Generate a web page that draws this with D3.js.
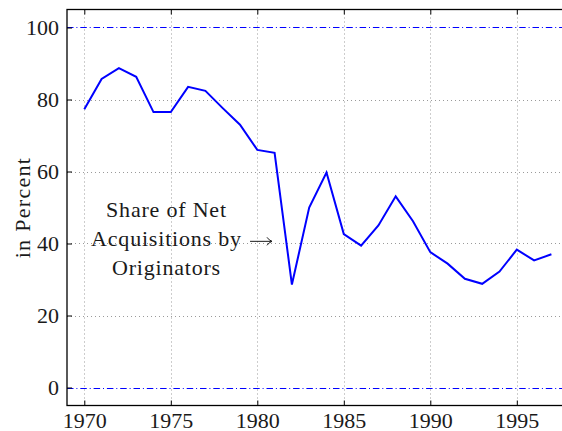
<!DOCTYPE html>
<html>
<head>
  <title>Share of Net Acquisitions by Originators</title>
  <script src="https://cdn.jsdelivr.net/npm/d3@7"></script>
  <style>
    body { margin: 0; background: #fff; }
  </style>
</head>
<body>
  <div id="chart"></div>
  <script>
    // data
    const years = [1970, 1971, 1972, 1973, 1974, 1975, 1976, 1977, 1978, 1979,
                   1980, 1981, 1982, 1983, 1984, 1985, 1986, 1987, 1988, 1989,
                   1990, 1991, 1992, 1993, 1994, 1995, 1996, 1997];
    const share = [77.3, 85.7, 88.7, 86.3, 76.5, 76.5, 83.5, 82.4, 77.6, 73.0,
                   66.0, 65.2, 28.6, 50.0, 59.7, 42.6, 39.4, 45.0, 53.1, 46.2,
                   37.6, 34.4, 30.2, 28.8, 32.2, 38.3, 35.3, 37.0];
    const xTicks = [1970, 1975, 1980, 1985, 1990, 1995];
    const yTicks = [0, 20, 40, 60, 80, 100];
    const refLevels = [0, 100];
    const noteLines = ["Share of Net", "Acquisitions by", "Originators"];
    const noteAt = {year: 1974.75, value: 39.3};
    const arrowFrom = {year: 1979.58, value: 40.6};
    const arrowTo = {year: 1980.85, value: 40.6};

    const FONT = '"Liberation Serif", "DejaVu Serif", "Noto Serif", serif';
    const INK = "#1a1a1a";

    const W = 562, H = 431;
    const margin = {top: 9.5, left: 67};
    const plotW = 501.7, plotH = 396;

    const data = years.map((y, i) => ({year: y, value: share[i]}));

    const svg = d3.select("#chart").append("svg")
      .attr("width", W).attr("height", H)
      .style("font-family", FONT);

    const g = svg.append("g")
      .attr("transform", `translate(${margin.left},${margin.top})`);

    const x = d3.scaleLinear().domain([1969, 1998]).range([0, plotW]);
    const y = d3.scaleLinear().domain([-5, 105]).range([plotH, 0]);
    // snap 1px lines to the pixel grid
    const px = v => Math.round(x(v) + margin.left) - margin.left + 0.5;
    const py = v => Math.round(y(v) + margin.top) - margin.top + 0.5;

    // grid
    const grid = g.append("g")
      .attr("stroke", "#9a9a9a").attr("stroke-width", 1).attr("stroke-dasharray", "1,3");
    grid.selectAll(null).data(xTicks).join("line")
      .attr("x1", d => px(d)).attr("x2", d => px(d))
      .attr("y1", 0).attr("y2", plotH);
    grid.selectAll(null).data(yTicks.filter(d => !refLevels.includes(d))).join("line")
      .attr("x1", 0).attr("x2", plotW)
      .attr("y1", d => py(d)).attr("y2", d => py(d));

    // reference lines at 0 and 100
    g.selectAll(null).data(refLevels).join("line")
      .attr("x1", 0).attr("x2", plotW)
      .attr("y1", d => py(d)).attr("y2", d => py(d))
      .attr("stroke", "#0000ff").attr("stroke-width", 1)
      .attr("stroke-dasharray", "6.5,2.9,1,2.9");

    // series
    const line = d3.line()
      .x(d => x(d.year))
      .y(d => y(d.value));

    g.append("path")
      .datum(data)
      .attr("fill", "none")
      .attr("stroke", "#0000ff")
      .attr("stroke-width", 2)
      .attr("d", line);

    // axes, ticks pointing inward
    const styleAxis = sel => {
      sel.attr("font-family", FONT).attr("font-size", 22);
      sel.select(".domain").remove();
      sel.selectAll("line").attr("stroke", "#000");
      sel.selectAll("text").attr("fill", INK);
    };

    g.append("g")
      .attr("transform", `translate(0,${plotH})`)
      .call(d3.axisBottom(x).tickValues(xTicks).tickFormat(d3.format("d"))
        .tickSizeInner(-5).tickSizeOuter(0).tickPadding(7))
      .call(styleAxis);

    g.append("g")
      .call(d3.axisTop(x).tickValues(xTicks).tickFormat("")
        .tickSizeInner(-5).tickSizeOuter(0))
      .call(styleAxis);

    g.append("g")
      .call(d3.axisLeft(y).tickValues(yTicks).tickFormat(d3.format("d"))
        .tickSizeInner(-5).tickSizeOuter(0).tickPadding(8))
      .call(styleAxis);

    g.append("g")
      .attr("transform", `translate(${plotW},0)`)
      .call(d3.axisRight(y).tickValues(yTicks).tickFormat("")
        .tickSizeInner(-5).tickSizeOuter(0))
      .call(styleAxis);

    // frame
    g.append("rect")
      .attr("x", 0).attr("y", 0)
      .attr("width", plotW).attr("height", plotH)
      .attr("fill", "none").attr("stroke", "#000").attr("stroke-width", 1.3);

    // y label
    svg.append("text")
      .attr("transform", `translate(30,${margin.top + plotH / 2}) rotate(-90)`)
      .attr("text-anchor", "middle")
      .attr("font-size", 22)
      .attr("letter-spacing", 1.3)
      .attr("fill", INK)
      .text("in Percent");

    // annotation
    const note = g.append("text")
      .attr("text-anchor", "middle")
      .attr("font-size", 22)
      .attr("letter-spacing", 0.8)
      .attr("fill", INK);
    note.selectAll("tspan").data(noteLines).join("tspan")
      .attr("x", x(noteAt.year))
      .attr("y", (d, i) => y(noteAt.value) + (i - 1) * 29)
      .text(d => d);

    const ax0 = x(arrowFrom.year), ax1 = x(arrowTo.year), ay = y(arrowFrom.value);
    g.append("path")
      .attr("d", `M${ax0},${ay}H${ax1}M${ax1 - 5},${ay - 4}Q${ax1 - 3},${ay - 1} ${ax1},${ay}Q${ax1 - 3},${ay + 1} ${ax1 - 5},${ay + 4}`)
      .attr("fill", "none").attr("stroke", INK).attr("stroke-width", 1);
  </script>
</body>
</html>
